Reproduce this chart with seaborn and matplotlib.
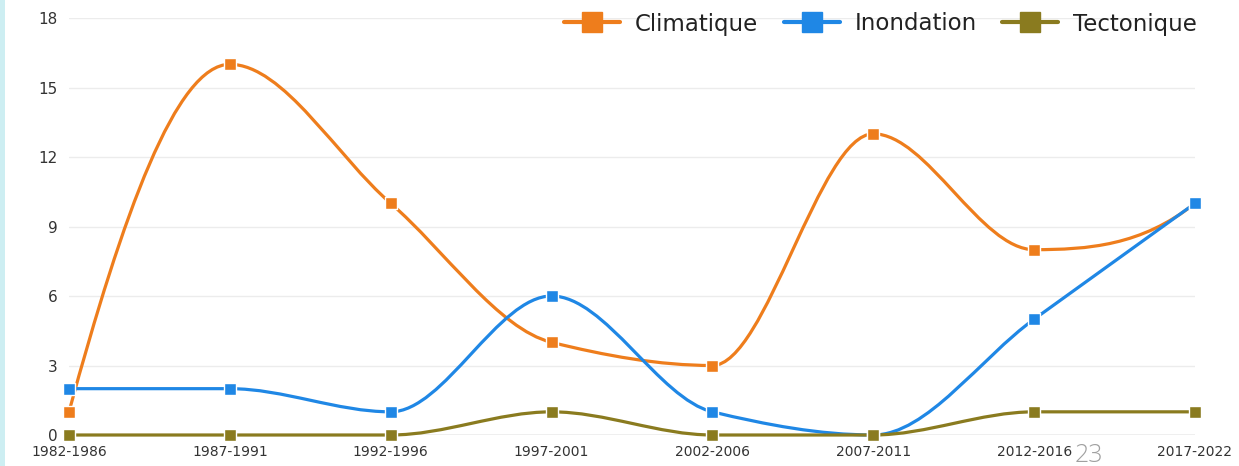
import numpy as np
import pandas as pd
import seaborn as sns
import matplotlib.pyplot as plt
from matplotlib.path import Path
from matplotlib.patches import PathPatch, Rectangle
from matplotlib.lines import Line2D

# Données
periodes = ['1982-1986', '1987-1991', '1992-1996', '1997-2001',
            '2002-2006', '2007-2011', '2012-2016', '2017-2022']
climatique = [1, 16, 10, 4, 3, 13, 8, 10]
inondation = [2, 2, 1, 6, 1, 0, 5, 10]
tectonique = [0, 0, 0, 1, 0, 0, 1, 1]

series = {'Climatique': climatique, 'Inondation': inondation, 'Tectonique': tectonique}
couleurs = {'Climatique': '#ee7d1c', 'Inondation': '#1f87e5', 'Tectonique': '#8a7b1f'}

df = pd.DataFrame({'periode': periodes, 'Climatique': climatique,
                   'Inondation': inondation, 'Tectonique': tectonique})
df['x'] = np.arange(len(periodes))


def pentes_monotones(x, y):
    # pentes de type PCHIP (courbe lissée monotone)
    x = np.asarray(x, float)
    y = np.asarray(y, float)
    h = np.diff(x)
    delta = np.diff(y) / h
    n = len(x)
    d = np.zeros(n)
    for k in range(1, n - 1):
        if delta[k - 1] * delta[k] > 0:
            w1 = 2 * h[k] + h[k - 1]
            w2 = h[k] + 2 * h[k - 1]
            d[k] = (w1 + w2) / (w1 / delta[k - 1] + w2 / delta[k])
    # extrémités
    d0 = ((2 * h[0] + h[1]) * delta[0] - h[0] * delta[1]) / (h[0] + h[1])
    if np.sign(d0) != np.sign(delta[0]):
        d0 = 0
    elif np.sign(delta[0]) != np.sign(delta[1]) and abs(d0) > 3 * abs(delta[0]):
        d0 = 3 * delta[0]
    dn = ((2 * h[-1] + h[-2]) * delta[-1] - h[-1] * delta[-2]) / (h[-1] + h[-2])
    if np.sign(dn) != np.sign(delta[-1]):
        dn = 0
    elif np.sign(delta[-1]) != np.sign(delta[-2]) and abs(dn) > 3 * abs(delta[-1]):
        dn = 3 * delta[-1]
    d[0] = d0
    d[-1] = dn
    return d


def chemin_lisse(x, y):
    d = pentes_monotones(x, y)
    verts = [(x[0], y[0])]
    codes = [Path.MOVETO]
    for k in range(len(x) - 1):
        h = x[k + 1] - x[k]
        verts += [(x[k] + h / 3, y[k] + d[k] * h / 3),
                  (x[k + 1] - h / 3, y[k + 1] - d[k + 1] * h / 3),
                  (x[k + 1], y[k + 1])]
        codes += [Path.CURVE4] * 3
    return Path(verts, codes)


sns.set_style('white')
plt.rcParams['font.family'] = ['DejaVu Sans']

fig = plt.figure(figsize=(12.39, 4.66), dpi=100)
ax = fig.add_axes([69 / 1239, 1 - 435 / 466, (1195 - 69) / 1239, (435 - 18) / 466])

# bande claire à gauche
fig.patches.append(Rectangle((0, 0), 5 / 1239, 1, transform=fig.transFigure,
                             facecolor='#cdeef2', edgecolor='none', zorder=0))

for y in [3, 6, 9, 12, 15, 18]:
    ax.axhline(y, color='#ececec', lw=1, zorder=0)
ax.axhline(0, color='#b0b0b0', lw=1, zorder=1)

for nom, valeurs in series.items():
    p = chemin_lisse(df['x'].values, np.array(valeurs, float))
    ax.add_patch(PathPatch(p, facecolor='none', edgecolor=couleurs[nom], lw=2.3,
                           zorder=2, clip_on=False, capstyle='round'))
    sns.scatterplot(data=df, x='x', y=nom, ax=ax, marker='s', s=70,
                    color=couleurs[nom], edgecolor='white', linewidth=1,
                    zorder=3, clip_on=False, legend=False)

ax.set_xlim(0, len(periodes) - 1)
ax.set_ylim(0, 18)
ax.set_xticks(df['x'])
ax.set_xticklabels(periodes)
ax.set_yticks([0, 3, 6, 9, 12, 15, 18])
ax.tick_params(axis='x', length=0, pad=7, labelsize=10, labelcolor='#333333')
ax.tick_params(axis='y', length=0, pad=8, labelsize=11, labelcolor='#333333')
ax.set_xlabel('')
ax.set_ylabel('')
for s in ax.spines.values():
    s.set_visible(False)

poignees = [Line2D([], [], color=couleurs[n], lw=3, marker='s', markersize=15,
                   markeredgecolor=couleurs[n]) for n in series]
fig.legend(poignees, list(series.keys()), loc='center right',
           bbox_to_anchor=(1197 / 1239, 1 - 24 / 466), ncol=3, frameon=False,
           fontsize=16.5, handlelength=2.45, handletextpad=0.65, columnspacing=1.1,
           borderpad=0, borderaxespad=0, labelcolor='#222222')

fig.text(1075 / 1239, 1 - 455 / 466, '23', fontsize=18, color='#a0a0a0',
         family=['Open Sans', 'DejaVu Sans'], fontweight='light', va='center')

plt.savefig('out.png', dpi=100)
